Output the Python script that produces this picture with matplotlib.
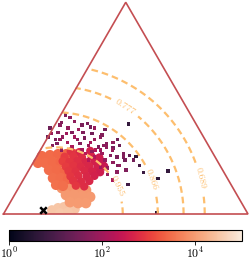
import numpy as np
import matplotlib.pyplot as plt
import seaborn as sns
from matplotlib.colors import LogNorm

plt.rcParams['mathtext.fontset'] = 'cm'
plt.rcParams['font.family'] = 'serif'
plt.rcParams['font.serif'] = ['cmr10']
plt.rcParams['axes.formatter.use_mathtext'] = True

# positions in the triangle plane, in % of the base length
# scattered low-count runs
dots_x = [25.2, 29.2, 34.2, 51.3, 19.0, 19.8, 18.2, 22.3, 26.4, 28.0,
          30.5, 32.5, 36.2, 39.5, 24.3, 29.2, 33.3, 37.4, 26.0, 31.3,
          34.6, 38.7, 42.3, 44.8, 21.9, 28.0, 32.1, 36.2, 40.3, 43.6,
          46.4, 48.9, 54.2, 37.4, 41.5, 44.8, 46.8, 49.7, 34.6, 39.5,
          42.7, 46.4, 57.1, 63.2, 67.3, 50.9, 62.8, 40.3, 44.8, 51.7,
          53.0, 39.5, 42.3, 44.4, 48.9, 35.4, 23.1, 21.1, 47.6, 23.9,
          27.2, 32.1, 37.4, 41.5, 23.9, 25.6, 35.4, 30.1, 41.1, 46.8,
          37.8, 33.7, 47.6, 42.7, 50.1, 44.4, 20.2, 23.1, 55.8]
dots_y = [40.5, 38.0, 37.2, 36.8, 35.2, 33.1, 31.5, 33.5, 35.2, 33.5,
          34.4, 33.5, 33.1, 31.5, 31.5, 31.5, 31.1, 30.3, 29.4, 29.0,
          28.2, 27.4, 27.4, 27.0, 29.0, 27.4, 26.2, 25.4, 24.9, 24.1,
          23.3, 23.3, 23.7, 23.3, 22.1, 20.9, 20.0, 22.1, 22.1, 19.2,
          18.8, 17.2, 16.8, 14.7, 17.6, 11.9, 0.4, 32.3, 29.4, 24.1,
          22.1, 26.2, 29.0, 26.2, 24.9, 35.6, 36.4, 30.3, 28.2, 26.2,
          39.3, 36.4, 35.2, 34.4, 37.6, 33.1, 29.4, 30.3, 28.2, 30.3,
          26.2, 24.9, 20.0, 16.0, 18.0, 13.9, 28.2, 30.3, 20.0]
dots_val = [40, 60, 35, 5, 25, 80, 30, 50, 70, 45,
            90, 40, 30, 55, 65, 100, 35, 75, 120, 50,
            85, 40, 60, 30, 45, 140, 110, 70, 95, 50,
            35, 45, 4, 150, 80, 60, 40, 30, 180, 100,
            70, 55, 6, 4, 5, 7, 3, 45, 65, 20,
            30, 90, 50, 75, 40, 30, 55, 35, 25, 70,
            60, 35, 80, 30, 45, 90, 110, 70, 55, 25,
            150, 200, 60, 80, 40, 120, 50, 60, 8]

# dense crimson group
crim_x = [27.5, 31.0, 35.5,
          25.0, 28.6, 32.1, 36.0, 39.2,
          24.2, 27.0, 30.2, 33.5, 37.1, 40.3,
          25.5, 28.7, 31.6, 35.0, 38.4, 41.2,
          26.6, 29.5, 33.1, 36.2, 39.5,
          27.4, 30.6, 34.0, 37.2,
          28.5, 31.7, 35.1,
          29.6, 33.0]
crim_y = [25.6, 25.3, 25.8,
          23.4, 23.7, 23.2, 23.6, 23.1,
          21.6, 21.3, 21.7, 21.2, 21.5, 21.1,
          19.4, 19.7, 19.3, 19.6, 19.2, 19.5,
          17.6, 17.3, 17.7, 17.4, 17.1,
          15.4, 15.7, 15.3, 15.6,
          13.6, 13.3, 13.5,
          11.6, 11.3]
crim_val = [700, 500, 400,
            900, 750, 600, 450, 350,
            1000, 800, 650, 500, 400, 300,
            900, 750, 600, 500, 400, 300,
            850, 700, 550, 450, 350,
            800, 650, 500, 400,
            750, 600, 500,
            800, 600]

# orange group
orng_x = [15.7, 19.0, 22.3, 25.6, 28.8, 17.0, 20.2, 23.5, 26.8, 18.6,
          21.9, 25.2, 28.0, 20.2, 23.5, 26.4, 21.5, 24.3, 30.5, 14.1]
orng_y = [23.7, 24.1, 24.5, 24.5, 24.5, 20.9, 21.3, 21.3, 20.9, 18.0,
          18.0, 17.6, 18.0, 14.7, 14.7, 14.3, 11.9, 11.5, 22.1, 20.9]
orng_val = [2800, 2800, 2600, 2400, 2200, 2900, 2800, 2600, 2400, 2900,
            2800, 2600, 2300, 3000, 2900, 2700, 3200, 3100, 2100, 2900]

# salmon group
salm_x = [23.9, 27.2, 30.5, 33.7, 25.6, 28.8, 32.1, 35.4, 27.2, 30.5, 33.7]
salm_y = [10.6, 11.0, 10.6, 9.8, 7.8, 7.8, 7.4, 7.0, 4.9, 4.5, 4.5]
salm_val = [8000, 8000, 8500, 8500, 9000, 9000, 9000, 9000, 9500, 9500, 9500]

# cream group
crem_x = [19.8, 22.3, 24.7, 27.2, 29.2, 23.1, 26.4]
crem_y = [1.6, 2.5, 2.9, 3.3, 2.0, 0.4, 0.8]
crem_val = [32000, 32000, 30000, 29000, 30000, 35000, 33000]

# reference point
ref_x, ref_y = 16.2, 1.5

# contour field (score) and its levels
levels = [0.689, 0.777, 0.866, 0.955]
f0, f1, cx0 = 1.022, 0.901, 0.215
label_pos = [(77.1, 13.9), (48.9, 42.5), (59.9, 13.9), (45.6, 11.0)]

H = 50 * np.sqrt(3)
cmap = sns.color_palette('rocket', as_cmap=True)
norm = LogNorm(1, 1e5)

fig = plt.figure(figsize=(2.49, 2.61), dpi=100)
ax = fig.add_axes([3.5 / 249, 47 / 261, 244.5 / 249, 211.7 / 261])
ax.set_xlim(0, 100)
ax.set_ylim(0, H)
ax.axis('off')

gx, gy = np.meshgrid(np.linspace(0, 100, 500), np.linspace(0, H, 450))
field = f0 - f1 * ((gx / 100 - cx0) ** 2 + (gy / 100) ** 2)
inside = (gy <= np.sqrt(3) * gx + 0.5) & (gy <= np.sqrt(3) * (100 - gx) + 0.5)
field = np.where(inside, field, np.nan)
cs = ax.contour(gx, gy, field, levels=levels, colors='#fdbe6e',
                linewidths=1.6, linestyles=[(0, (3, 1.8))])
ax.clabel(cs, fmt='%.3f', fontsize=7, inline=True, manual=label_pos)

ax.plot([0, 100, 50, 0], [0, 0, H, 0], color='#c44e52', lw=1.2,
        clip_on=False, solid_joinstyle='miter')

ax.scatter(crem_x, crem_y, c=crem_val, s=50, cmap=cmap, norm=norm, lw=0)
ax.scatter(salm_x, salm_y, c=salm_val, s=60, cmap=cmap, norm=norm, lw=0)
ax.scatter(orng_x, orng_y, c=orng_val, s=55, cmap=cmap, norm=norm, lw=0)
ax.scatter(crim_x, crim_y, c=crim_val, s=36, cmap=cmap, norm=norm, lw=0)
sc = ax.scatter(dots_x, dots_y, c=dots_val, s=5, marker='s', cmap=cmap,
                norm=norm, lw=0)
ax.scatter([ref_x], [ref_y], marker='x', color='black', s=22, lw=1.8,
           clip_on=False, zorder=5)

cax = fig.add_axes([9 / 249, 20 / 261, 233 / 249, 11.5 / 261])
cb = fig.colorbar(sc, cax=cax, orientation='horizontal')
cb.set_ticks([1, 100, 1e4])
cb.minorticks_off()
cb.ax.tick_params(labelsize=8.5, length=3, width=0.6, pad=0.8)
cb.outline.set_linewidth(0.8)

fig.savefig('out.png', dpi=100)
